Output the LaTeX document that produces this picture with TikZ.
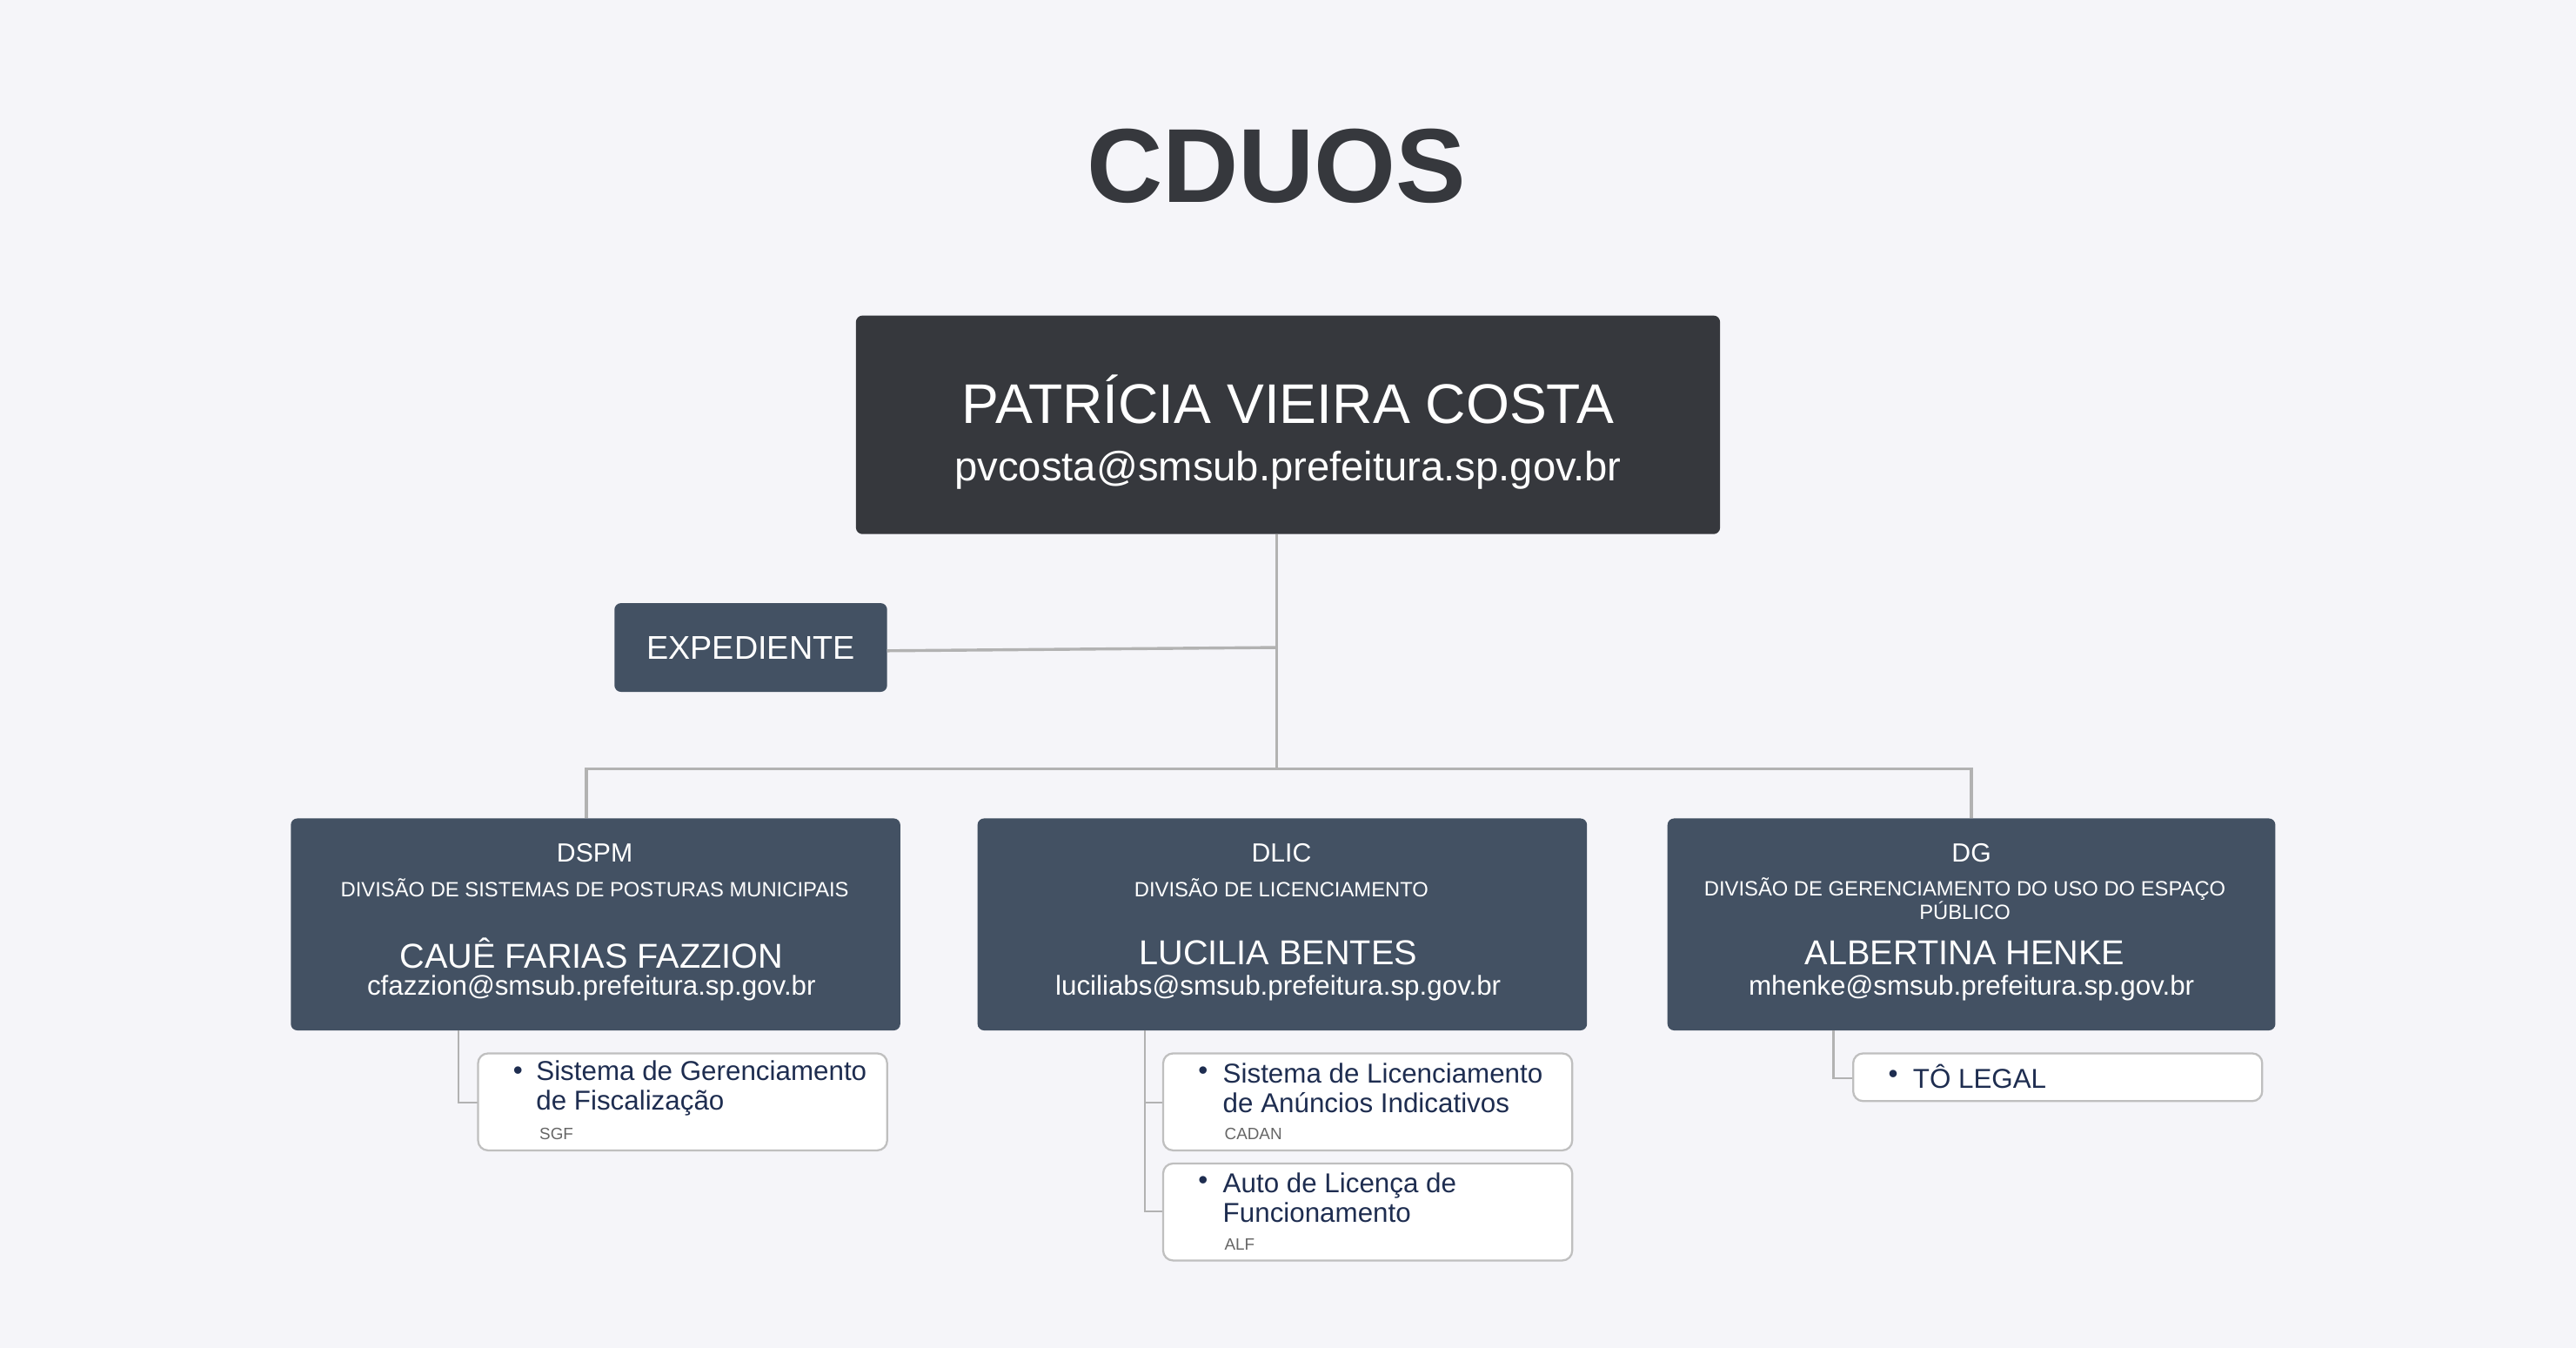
\documentclass[tikz,border=0pt]{standalone}
\usepackage{fontspec}
\setmainfont{Liberation Sans}
\definecolor{bg}{RGB}{245,245,249}
\definecolor{dk}{RGB}{54,56,61}
\definecolor{bl}{RGB}{67,81,99}
\definecolor{it}{RGB}{30,45,80}
\begin{document}
\begin{tikzpicture}[x=0.5pt,y=-0.5pt,
  ln/.style={draw=black!30,line width=0.9pt},
  blue/.style={fill=bl,rounded corners=2pt},
  item/.style={draw=black!25,fill=white,rounded corners=3pt,line width=0.6pt},
  txt/.style={text=white,inner sep=0pt},
  it/.style={text=it,inner sep=0pt,anchor=west,align=left,font=\fontsize{8.3}{9}\selectfont},
  sm/.style={text=black!60,inner sep=0pt,anchor=west,font=\fontsize{5}{6}\selectfont}]
\fill[bg] (0,0) rectangle (1568,820);
\useasboundingbox (0,0) rectangle (1568,820);
\node[inner sep=0pt,text=dk,font=\fontsize{32}{34}\selectfont\bfseries] (t) at (777,101) {CDUOS};
% top
\fill[dk,rounded corners=2pt] (521,192) rectangle (1047,325);
\node[txt,font=\fontsize{17}{18}\selectfont] (p) at (784,243) {PATRÍCIA VIEIRA COSTA};
\node[txt,font=\fontsize{12.5}{14}\selectfont] (pe) at (784,286) {pvcosta@smsub.prefeitura.sp.gov.br};
\coordinate (top) at (777,325);
\coordinate (j) at (777,394);
\coordinate (h) at (777,468);
% expediente
\fill[blue] (374,367) rectangle (540,421);
\node[txt,font=\fontsize{10}{12}\selectfont] (ex) at (457,394) {EXPEDIENTE};
\draw[ln] (top) -- (h);
\draw[ln] (540,396) -- (j);
\draw[ln] (357,498) -- (357,468) -- (1200,468) -- (1200,498);
% boxes
\foreach \x/\a/\b/\n/\e in {177/DSPM/DIVISÃO DE SISTEMAS DE POSTURAS MUNICIPAIS/CAUÊ FARIAS FAZZION/cfazzion@smsub.prefeitura.sp.gov.br,
 595/DLIC/DIVISÃO DE LICENCIAMENTO/LUCILIA BENTES/luciliabs@smsub.prefeitura.sp.gov.br}{
 \fill[blue] (\x,498) rectangle ++(371,129);
 \node[txt,font=\fontsize{8}{9}\selectfont] at (\x+185,519) {\a};
 \node[txt,font=\fontsize{6.3}{7}\selectfont] at (\x+185,540) {\b};
 \node[txt,font=\fontsize{10.5}{12}\selectfont] at (\x+183,580) {\n};
 \node[txt,font=\fontsize{8.3}{9}\selectfont] at (\x+183,601) {\e};}
\fill[blue] (1015,498) rectangle ++(370,129);
\node[txt,font=\fontsize{8}{9}\selectfont] (dg) at (1200,519) {DG};
\node[txt,font=\fontsize{6.3}{7.2}\selectfont,align=center] (dgs) at (1196,547) {DIVISÃO DE GERENCIAMENTO DO USO DO ESPAÇO\\PÚBLICO};
\node[txt,font=\fontsize{10.5}{12}\selectfont] (dgn) at (1196,580) {ALBERTINA HENKE};
\node[txt,font=\fontsize{8.3}{9}\selectfont] (dge) at (1200,601) {mhenke@smsub.prefeitura.sp.gov.br};
% items
\draw[ln,line width=0.6pt] (279,627) -- (279,671) -- (291,671);
\draw[item] (291,641) rectangle (540,700);
\node[it] (b1) at (312,653) {•};
\node[it] (i1) at (326,662) {Sistema de Gerenciamento\\de Fiscalização};
\node[sm] (s1) at (328,690) {SGF};
\draw[ln,line width=0.6pt] (697,627) -- (697,737) -- (708,737);
\draw[ln,line width=0.6pt] (697,671) -- (708,671);
\draw[item] (708,641) rectangle (957,700);
\node[it] (b2) at (729,653) {•};
\node[it] (i2) at (744,662) {Sistema de Licenciamento\\de Anúncios Indicativos};
\node[sm] (s2) at (745,690) {CADAN};
\draw[item] (708,708) rectangle (957,767);
\node[it] (b3) at (729,720) {•};
\node[it] (i3) at (744,729) {Auto de Licença de\\Funcionamento};
\node[sm] (s3) at (745,757) {ALF};
\draw[ln,line width=0.6pt] (1116,627) -- (1116,656) -- (1128,656);
\draw[item] (1128,641) rectangle (1377,670);
\node[it] (b4) at (1149,655) {•};
\node[it] (i4) at (1164,655) {TÔ LEGAL};
\end{tikzpicture}
\end{document}
